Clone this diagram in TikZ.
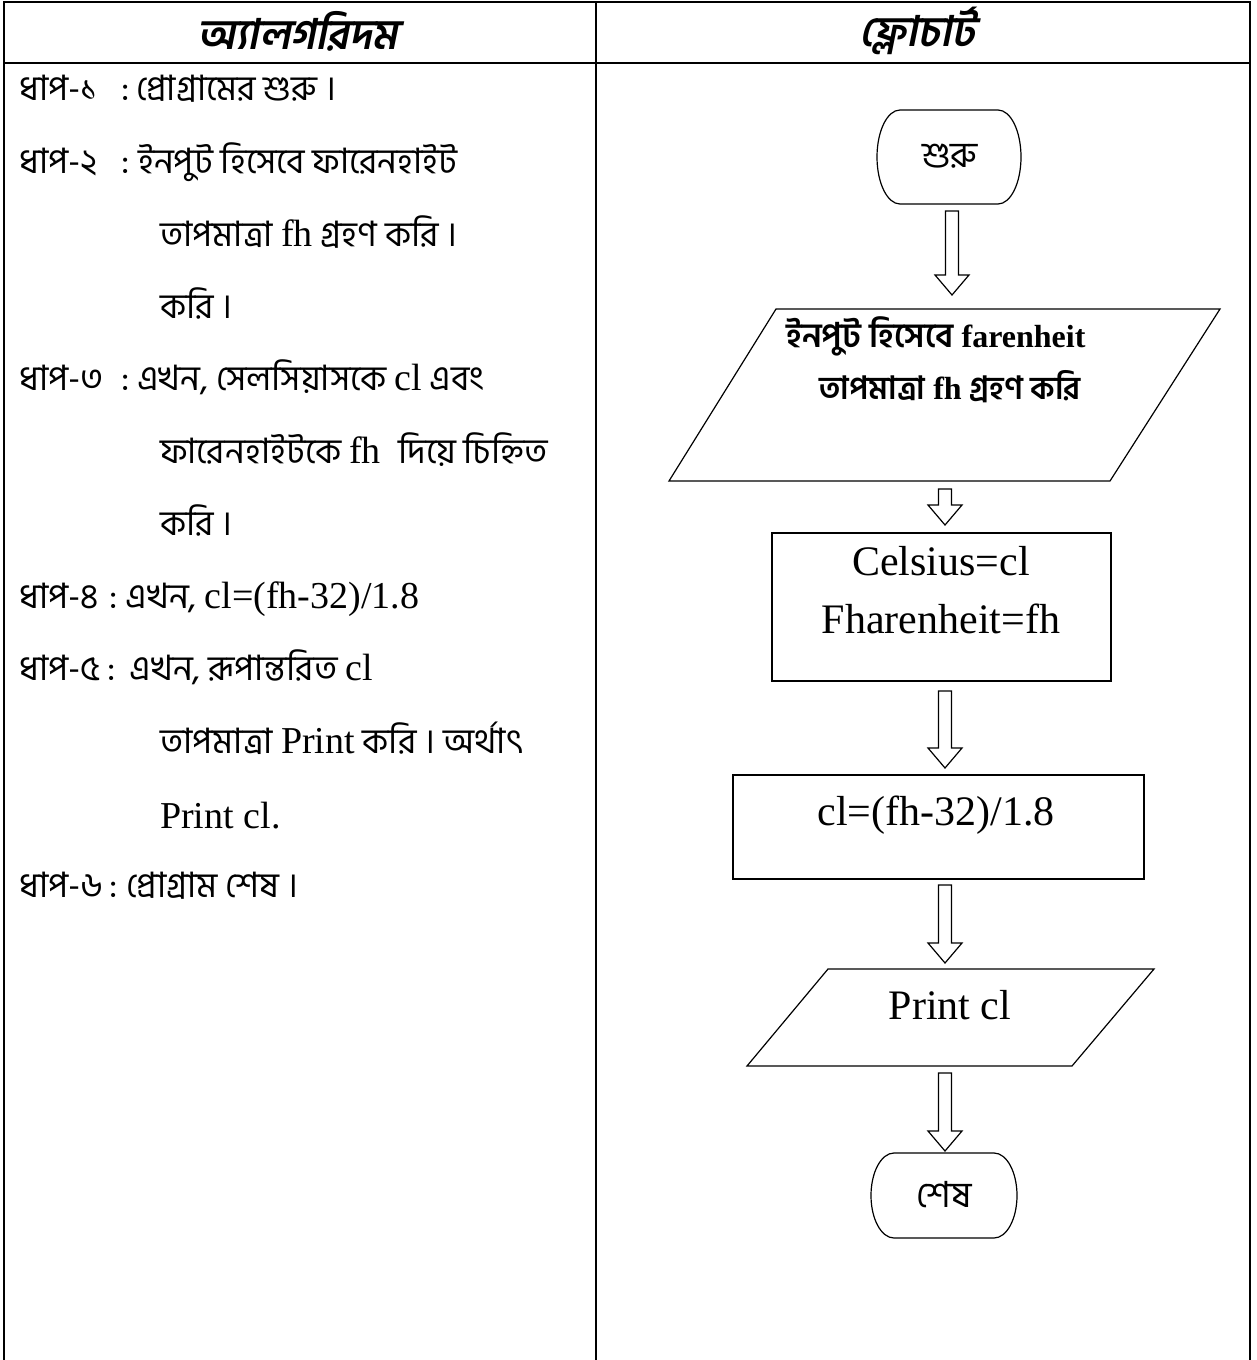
\documentclass[tikz,border=0pt]{standalone}
\usepackage{fontspec}
\setmainfont{Liberation Serif}
\newfontfamily\bn[Script=Bengali]{Hind Siliguri}
\newfontfamily\bnhead[Script=Bengali,FakeSlant=0.2]{Hind Siliguri}
\usetikzlibrary{calc}

% hollow block arrow: x position, source node, gap below it, target node, gap above it
\newcommand\flowarrow[5]{%
  \draw[shapeline] let \p1=([yshift=-#3pt]#2.south), \p2=([yshift=#5pt]#4.north), \p3=(#1,0) in
    (\x3-6.5pt,\y1) -- (\x3+6.5pt,\y1) -- (\x3+6.5pt,\y2+20pt) -- (\x3+17pt,\y2+20pt)
    -- (\x3,\y2) -- (\x3-17pt,\y2+20pt) -- (\x3-6.5pt,\y2+20pt) -- cycle;}
% Latin words inside the Bengali step texts
\newcommand\lt[1]{{\rmfamily\fontsize{38}{40}\selectfont #1}}

\begin{document}
\begin{tikzpicture}[x=1pt,y=-1pt,
  rule/.style={line width=2.2pt},
  shapeline/.style={line width=1.2pt, line join=miter},
  anchorbox/.style={inner sep=0pt, outer sep=0pt},
  head/.style={inner sep=0pt, font=\fontsize{42}{46}\bnhead\bfseries},
  txt/.style={anchor=base west, inner sep=0pt, font=\fontsize{35}{38}\bn},
  lat/.style={anchor=base, inner sep=0pt, font=\fontsize{42}{46}\selectfont},
  bnode/.style={inner sep=0pt, font=\fontsize{36}{40}\bn}]
\useasboundingbox (0,0) rectangle (1257,1360);

% table frame
\draw[rule] (4,1360) -- (4,2) -- (1250,2) -- (1250,1360);
\draw[rule] (4,62.7) -- (1250,62.7);
\draw[rule] (596,2) -- (596,1360);

% column headers
\node[head] (hl) at (298,31) {অ্যালগরিদম};
\node[head] (hr) at (917,31) {ফ্লোচার্ট};

% algorithm steps
\node[txt] (s1) at (19,100) {ধাপ-১};
\node[txt] (s1c) at (121,100) {:};
\node[txt] (s1t) at (136,100) {প্রোগ্রামের শুরু ।};

\node[txt] (s2) at (19,173) {ধাপ-২};
\node[txt] (s2c) at (121,173) {:};
\node[txt] (s2t) at (138,173) {ইনপুট হিসেবে ফারেনহাইট};
\node[txt] (s2b) at (160,246) {তাপমাত্রা \lt{fh} গ্রহণ করি ।};
\node[txt] (s2d) at (160,318) {করি ।};

\node[txt] (s3) at (19,390) {ধাপ-৩};
\node[txt] (s3c) at (121,390) {:};
\node[txt] (s3t) at (137,390) {এখন, সেলসিয়াসকে \lt{cl} এবং};
\node[txt] (s3b) at (160,463) {ফারেনহাইটকে \lt{fh\ } দিয়ে চিহ্নিত};
\node[txt] (s3d) at (160,535) {করি ।};

\node[txt] (s4) at (19,608) {ধাপ-৪};
\node[txt] (s4c) at ([xshift=10]s4.base east) {:};
\node[txt] (s4t) at ([xshift=8]s4c.base east) {এখন, \lt{cl=(fh-32)/1.8}};

\node[txt] (s5) at (19,680) {ধাপ-৫};
\node[txt] (s5c) at ([xshift=6]s5.base east) {:};
\node[txt] (s5t) at ([xshift=14]s5c.base east) {এখন, রূপান্তরিত \lt{cl}};
\node[txt] (s5b) at (160,753) {তাপমাত্রা \lt{Print} করি । অর্থাৎ};
\node[txt] (s5d) at (160,828) {\lt{Print cl.}};

\node[txt] (s6) at (19,897) {ধাপ-৬};
\node[txt] (s6c) at ([xshift=6]s6.base east) {:};
\node[txt] (s6t) at ([xshift=8]s6c.base east) {প্রোগ্রাম শেষ ।};

% flowchart: start terminal
\node[anchorbox, minimum width=144, minimum height=94] (start) at (949,157) {};
\draw[shapeline] (900,110) -- (998,110) arc[start angle=-90, end angle=90, x radius=23, y radius=47]
  -- (900,204) arc[start angle=90, end angle=270, x radius=23, y radius=47] -- cycle;
\node[bnode] (startt) at (950,156) {শুরু};

% input parallelogram
\node[anchorbox, minimum width=551, minimum height=172] (input) at (944.5,395) {};
\draw[shapeline] (776,309) -- (1220,309) -- (1110,481) -- (669,481) -- cycle;
\node[anchorbox, anchor=base, font=\fontsize{34}{36}\bn\bfseries] (inl1) at (936,347)
  {ইনপুট হিসেবে {\fontsize{32}{34}\rmfamily\bfseries farenheit}};
\node[anchorbox, anchor=base, font=\fontsize{32}{36}\bn\bfseries] (inl2) at (950,399)
  {তাপমাত্রা {\fontsize{32}{34}\rmfamily\bfseries fh} গ্রহণ করি};

% naming box
\node[draw, shapeline, anchorbox, minimum width=339, minimum height=148] (define) at (941.5,607) {};
\node[lat] (d1) at (941,575) {Celsius=cl};
\node[lat] (d2) at (941,633) {Fharenheit=fh};

% conversion box
\node[draw, shapeline, anchorbox, minimum width=411, minimum height=104] (compute) at (938.5,827) {};
\node[lat] (c1) at (936,825) {cl=(fh-32)/1.8};

% output parallelogram
\node[anchorbox, minimum width=407, minimum height=97] (output) at (950.5,1017.5) {};
\draw[shapeline] (828,969) -- (1154,969) -- (1072,1066) -- (747,1066) -- cycle;
\node[lat] (o1) at (950,1019) {Print cl};

% end terminal
\node[anchorbox, minimum width=146, minimum height=85] (stop) at (944,1195.5) {};
\draw[shapeline] (894,1153) -- (994,1153) arc[start angle=-90, end angle=90, x radius=23, y radius=42.5]
  -- (894,1238) arc[start angle=90, end angle=270, x radius=23, y radius=42.5] -- cycle;
\node[bnode] (stopt) at (944,1195) {শেষ};

% connectors
\flowarrow{952}{start}{7}{input}{14}
\flowarrow{945}{input}{8}{define}{8}
\flowarrow{945}{define}{10}{compute}{7}
\flowarrow{945}{compute}{6}{output}{6}
\flowarrow{945}{output}{7}{stop}{2}
\end{tikzpicture}
\end{document}
